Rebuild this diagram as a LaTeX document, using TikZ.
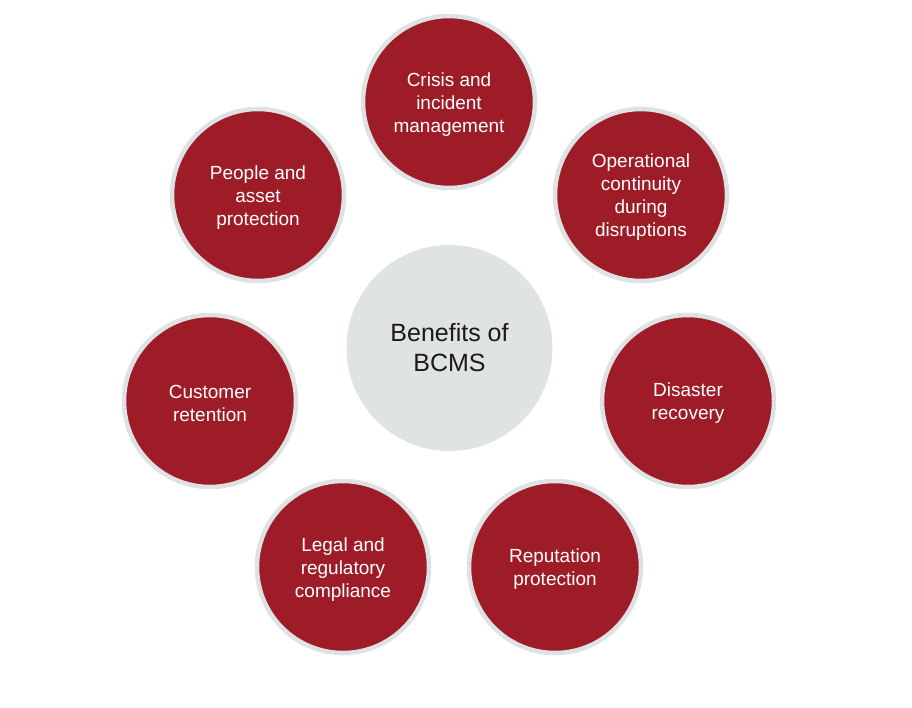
\documentclass[tikz,border=0pt]{standalone}
\usepackage{fontspec}
\setmainfont{Liberation Sans}
\definecolor{bred}{HTML}{9E1C27}
\definecolor{bring}{HTML}{DFE2E3}
\definecolor{bcenter}{HTML}{E0E3E4}
\definecolor{btext}{HTML}{1A1A1A}
\begin{document}
\begin{tikzpicture}[x=1pt,y=-1pt,
  benefit/.style={circle, fill=bred, draw=bring, line width=4.5pt, minimum size=172pt, inner sep=0pt},
  btxt/.style={text=white, align=center, inner sep=0pt, font=\fontsize{19}{23}\selectfont},
  hub/.style={circle, fill=bcenter, minimum size=206pt, inner sep=0pt,
    text=btext, align=center, font=\fontsize{25}{30}\selectfont}]
\useasboundingbox (0,0) rectangle (912,707);
\node[hub] (c) at (449.5,348) {Benefits of\\BCMS};
\node[benefit] (b1) at (449,102) {};
\node[benefit] (b2) at (641,195) {};
\node[benefit] (b3) at (688,401) {};
\node[benefit] (b4) at (555,567) {};
\node[benefit] (b5) at (343,567) {};
\node[benefit] (b6) at (210,401) {};
\node[benefit] (b7) at (258,195) {};
\node[btxt] (t1) at ([yshift=-2.5pt]b1.center) {Crisis and\\incident\\management};
\node[btxt] (t2) at ([yshift=-2.5pt]b2.center) {Operational\\continuity\\during\\disruptions};
\node[btxt] (t3) at ([yshift=-2.5pt]b3.center) {Disaster\\recovery};
\node[btxt] (t4) at ([yshift=-2.5pt]b4.center) {Reputation\\protection};
\node[btxt] (t5) at ([yshift=-2.5pt]b5.center) {Legal and\\regulatory\\compliance};
\node[btxt] (t6) at ([yshift=-2.5pt]b6.center) {Customer\\retention};
\node[btxt] (t7) at ([yshift=-2.5pt]b7.center) {People and\\asset\\protection};
\end{tikzpicture}
\end{document}
